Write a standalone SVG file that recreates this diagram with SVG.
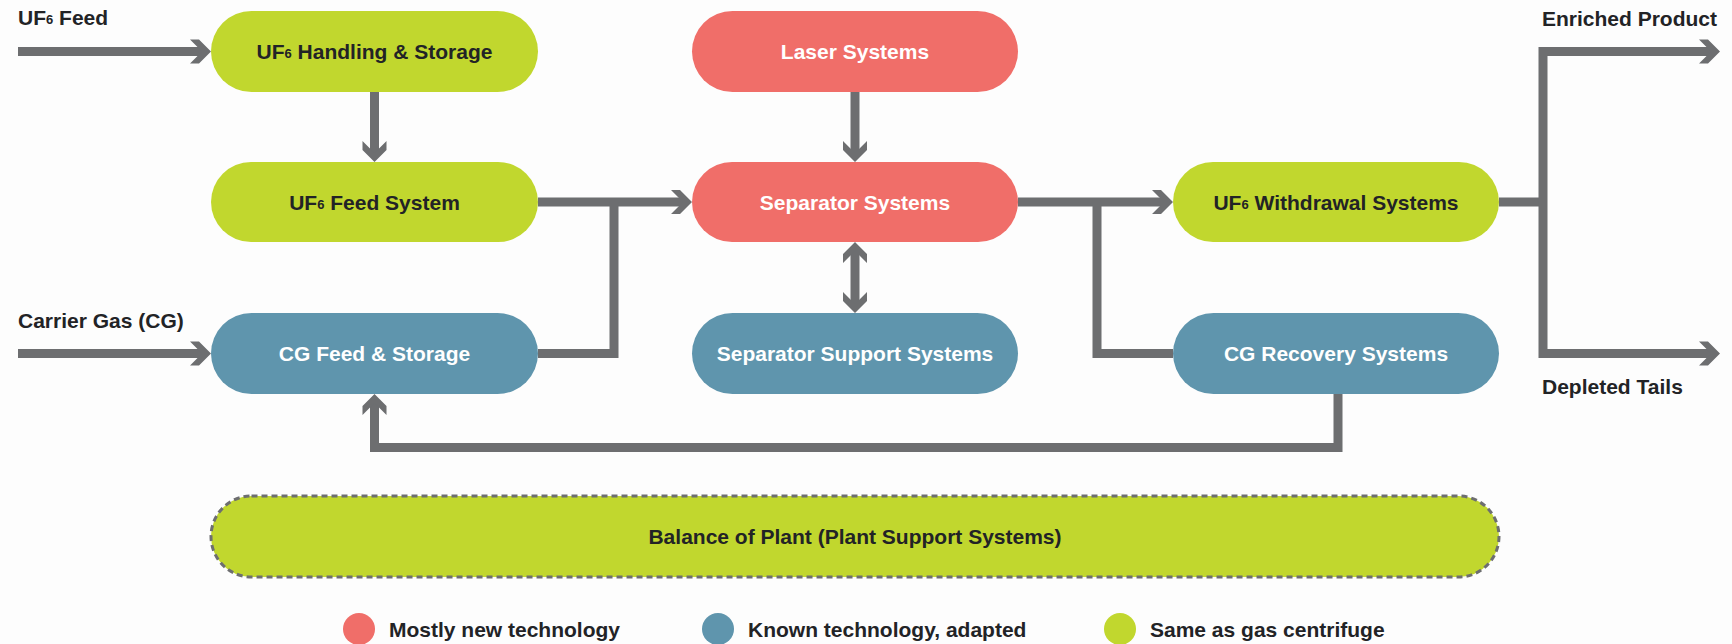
<svg xmlns="http://www.w3.org/2000/svg" width="1732" height="644" viewBox="0 0 1732 644">
<style>
.bg{fill:#fdfdfd}
.g{fill:#c1d72e}
.r{fill:#f06e69}
.b{fill:#5f95ad}
.t{font-family:"Liberation Sans",Arial,sans-serif;font-weight:bold;font-size:21px}
.dk{fill:#222326}
.wh{fill:#ffffff}
.c{text-anchor:middle}
.conn path{fill:none;stroke:#6d6e70;stroke-width:9;stroke-linejoin:miter}
.sub{font-size:13px}
</style>
<defs>
<marker id="ah" markerUnits="userSpaceOnUse" orient="auto-start-reverse" markerWidth="40" markerHeight="40" refX="0" refY="0" viewBox="-20 -20 40 40" overflow="visible">
<path d="M8,0 L-4,-12 L-13,-12 L-1,0 L-13,12 L-4,12 Z" fill="#6d6e70"/>
</marker>
</defs>
<rect class="bg" x="0" y="0" width="1732" height="644"/>

<g id="connectors" class="conn">
<path d="M18,51.5 H203" marker-end="url(#ah)"/>
<path d="M374.5,92 V154" marker-end="url(#ah)"/>
<path d="M18,353.5 H203" marker-end="url(#ah)"/>
<path d="M538,202 H684" marker-end="url(#ah)"/>
<path d="M538,353.5 H614 V202"/>
<path d="M855,92 V154" marker-end="url(#ah)"/>
<path d="M855,250 V305" marker-start="url(#ah)" marker-end="url(#ah)"/>
<path d="M1018,202 H1165" marker-end="url(#ah)"/>
<path d="M1097,202 V353.5 H1173"/>
<path d="M1499,202 H1543"/>
<path d="M1712,51.5 H1543 V353.5 H1712" marker-start="url(#ah)" marker-end="url(#ah)"/>
<path d="M1338,394 V447.5 H374.5 V402" marker-end="url(#ah)"/>
</g>

<g id="label-uf6feed"><text class="t dk" x="18" y="25">UF<tspan class="sub" dy="-1">6</tspan><tspan dy="1"> Feed</tspan></text></g>
<g id="label-carrier"><text class="t dk" x="18" y="328">Carrier Gas (CG)</text></g>
<g id="label-enriched"><text class="t dk" x="1542" y="26">Enriched Product</text></g>
<g id="label-depleted"><text class="t dk" x="1542" y="394">Depleted Tails</text></g>

<g id="uf6-handling">
<rect class="g" x="211" y="11" width="327" height="81" rx="40.5"/>
<text class="t dk c" x="374.5" y="59">UF<tspan class="sub" dy="-1">6</tspan><tspan dy="1"> Handling &amp; Storage</tspan></text>
</g>
<g id="uf6-feed-system">
<rect class="g" x="211" y="162" width="327" height="80" rx="40"/>
<text class="t dk c" x="374.5" y="209.5">UF<tspan class="sub" dy="-1">6</tspan><tspan dy="1"> Feed System</tspan></text>
</g>
<g id="cg-feed">
<rect class="b" x="211" y="313" width="327" height="81" rx="40.5"/>
<text class="t wh c" x="374.5" y="361">CG Feed &amp; Storage</text>
</g>
<g id="laser">
<rect class="r" x="692" y="11" width="326" height="81" rx="40.5"/>
<text class="t wh c" x="855" y="59">Laser Systems</text>
</g>
<g id="separator">
<rect class="r" x="692" y="162" width="326" height="80" rx="40"/>
<text class="t wh c" x="855" y="209.5">Separator Systems</text>
</g>
<g id="separator-support">
<rect class="b" x="692" y="313" width="326" height="81" rx="40.5"/>
<text class="t wh c" x="855" y="361">Separator Support Systems</text>
</g>
<g id="uf6-withdrawal">
<rect class="g" x="1173" y="162" width="326" height="80" rx="40"/>
<text class="t dk c" x="1336" y="209.5">UF<tspan class="sub" dy="-1">6</tspan><tspan dy="1"> Withdrawal Systems</tspan></text>
</g>
<g id="cg-recovery">
<rect class="b" x="1173" y="313" width="326" height="81" rx="40.5"/>
<text class="t wh c" x="1336" y="361">CG Recovery Systems</text>
</g>
<g id="balance-of-plant">
<rect class="g" x="211" y="496" width="1288" height="81" rx="40.5" stroke="#6d6e70" stroke-width="3" stroke-dasharray="6 4"/>
<text class="t dk c" x="855" y="544">Balance of Plant (Plant Support Systems)</text>
</g>
<g id="legend">
<circle class="r" cx="359" cy="629" r="16"/>
<text class="t dk" x="389" y="637">Mostly new technology</text>
<circle class="b" cx="718" cy="629" r="16"/>
<text class="t dk" x="748" y="637">Known technology, adapted</text>
<circle class="g" cx="1120" cy="629" r="16"/>
<text class="t dk" x="1150" y="637">Same as gas centrifuge</text>
</g>
</svg>
